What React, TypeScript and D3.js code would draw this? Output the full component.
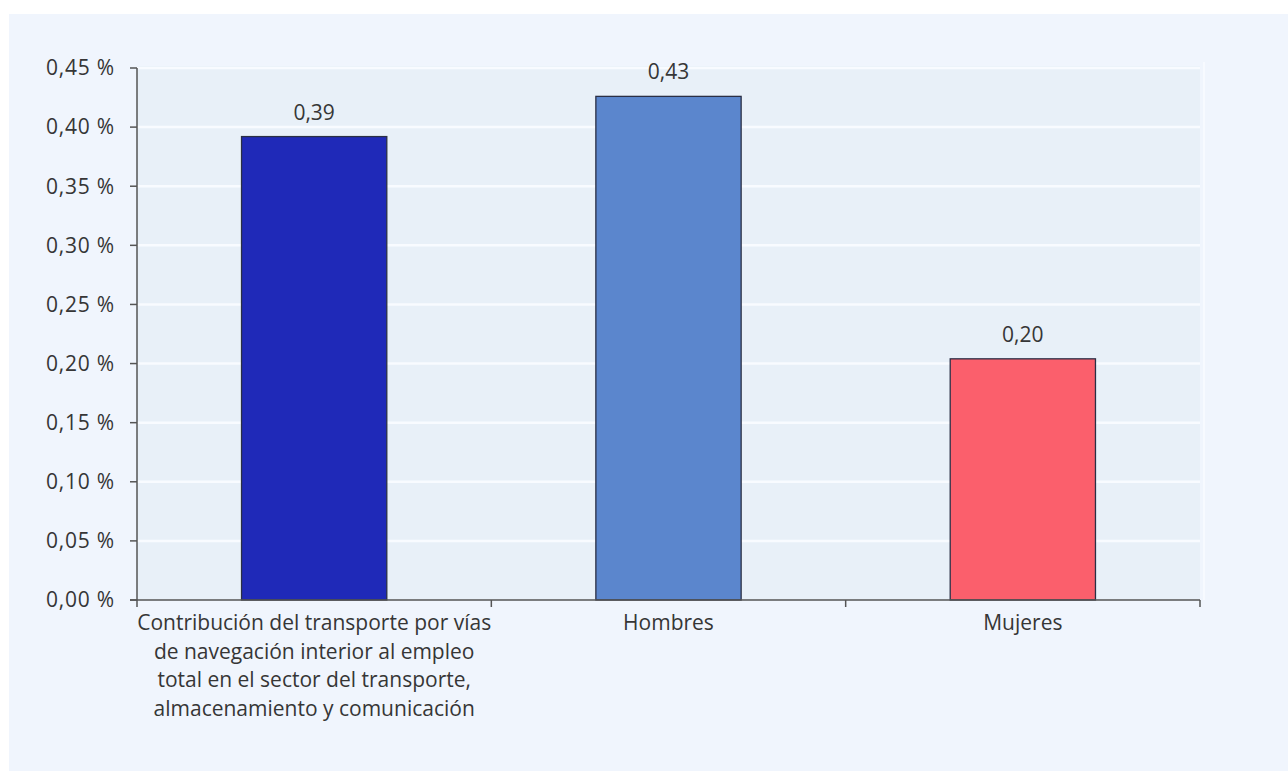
import React from "react";
import * as d3 from "d3";

// Employment share data (percent)
const categories = [
  "Contribución del transporte por vías de navegación interior al empleo total en el sector del transporte, almacenamiento y comunicación",
  "Hombres",
  "Mujeres",
];
const categoryLines = [
  [
    "Contribución del transporte por vías",
    "de navegación interior al empleo",
    "total en el sector del transporte,",
    "almacenamiento y comunicación",
  ],
  ["Hombres"],
  ["Mujeres"],
];
const values = [0.392, 0.426, 0.204];
const barColors = ["#1f29b8", "#5b86cd", "#fb5f6c"];
const yTicks = [0, 0.05, 0.1, 0.15, 0.2, 0.25, 0.3, 0.35, 0.4, 0.45];

const W = 1288;
const H = 771;
const margin = { left: 137, right: 88, top: 68, bottom: 171 };
const FONT = "'Open Sans', 'Noto Sans', sans-serif";
const TEXT = "#363636";

export default function App() {
  const x = d3
    .scaleBand<string>()
    .domain(categories)
    .range([margin.left, W - margin.right])
    .paddingInner(0)
    .paddingOuter(0);
  const y = d3
    .scaleLinear()
    .domain([0, 0.45])
    .range([H - margin.bottom, margin.top]);

  const fmtTick = (v: number) => v.toFixed(2).replace(".", ",") + " %";
  const fmtVal = (v: number) => v.toFixed(2).replace(".", ",");

  const barW = x.bandwidth() * 0.41;
  const x0 = margin.left;
  const x1 = W - margin.right;
  const y0 = y(0);
  const yTop = y(0.45);
  const boundaries = [x0, ...categories.map((c) => (x(c) as number) + x.bandwidth())];

  return (
    <svg
      width={W}
      height={H}
      style={{ position: "absolute", left: 0, top: 0, display: "block" }}
      fontFamily={FONT}
    >
      <rect x={0} y={0} width={W} height={H} fill="#ffffff" />
      <rect x={9} y={14} width={W - 9} height={H - 14} fill="#f0f5fd" />
      {/* plot area */}
      <rect x={x0} y={yTop - 2} width={x1 - x0} height={y0 - yTop + 2} fill="#e8f0f8" />
      <line x1={x1 + 4} x2={x1 + 4} y1={yTop - 6} y2={y0} stroke="#f7faff" strokeWidth={2} />
      {/* gridlines */}
      {yTicks.slice(1).map((t) => (
        <line
          key={"g" + t}
          x1={x0}
          x2={x1}
          y1={y(t)}
          y2={y(t)}
          stroke="#f8fbff"
          strokeWidth={2.5}
        />
      ))}
      {/* bars */}
      {categories.map((c, i) => {
        const cx = (x(c) as number) + x.bandwidth() / 2;
        return (
          <g key={"b" + i}>
            <rect
              x={cx - barW / 2}
              y={y(values[i])}
              width={barW}
              height={y0 - y(values[i])}
              fill={barColors[i]}
              stroke="#2a2f45"
              strokeWidth={1.3}
            />
            <text
              x={cx}
              y={y(values[i]) - 17}
              textAnchor="middle"
              fontSize={21}
              fill={TEXT}
            >
              {fmtVal(values[i])}
            </text>
          </g>
        );
      })}
      {/* y axis */}
      <line x1={x0} x2={x0} y1={yTop} y2={y0} stroke="#555" strokeWidth={1.5} />
      {yTicks.map((t) => (
        <g key={"t" + t}>
          <line x1={x0 - 7} x2={x0} y1={y(t)} y2={y(t)} stroke="#555" strokeWidth={1.5} />
          <text
            x={x0 - 22}
            y={y(t)}
            dy="0.35em"
            textAnchor="end"
            fontSize={21}
            letterSpacing={0.8}
            fill={TEXT}
          >
            {fmtTick(t)}
          </text>
        </g>
      ))}
      {/* x axis */}
      <line x1={x0 - 7} x2={x1} y1={y0} y2={y0} stroke="#555" strokeWidth={1.5} />
      {boundaries.map((b, i) => (
        <line key={"xt" + i} x1={b} x2={b} y1={y0} y2={y0 + 7} stroke="#555" strokeWidth={1.5} />
      ))}
      {categories.map((c, i) => {
        const cx = (x(c) as number) + x.bandwidth() / 2;
        return (
          <text key={"l" + i} x={cx} y={y0 + 30} textAnchor="middle" fontSize={21} fill={TEXT}>
            {categoryLines[i].map((ln, j) => (
              <tspan key={j} x={cx} dy={j === 0 ? 0 : 28.7}>
                {ln}
              </tspan>
            ))}
          </text>
        );
      })}
    </svg>
  );
}
